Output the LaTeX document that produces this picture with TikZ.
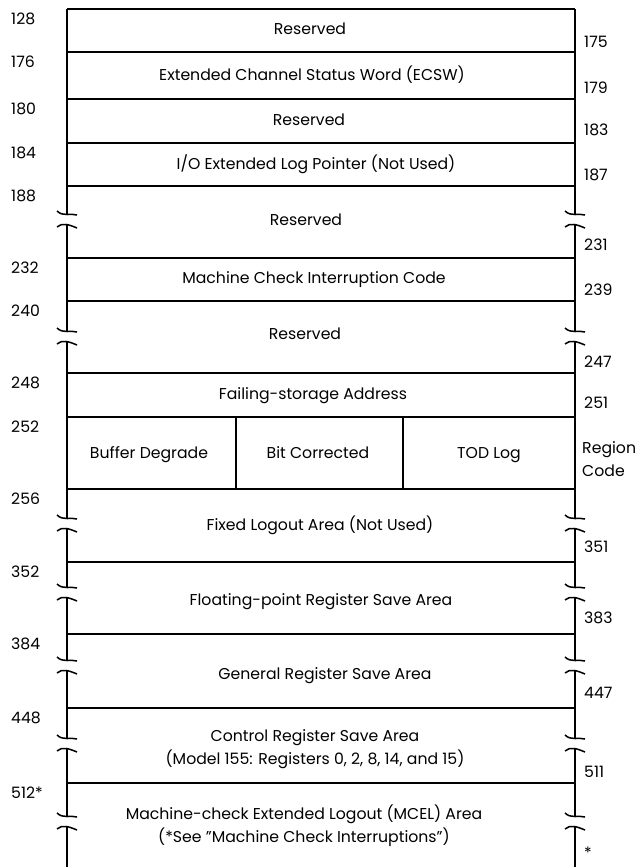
\documentclass[tikz,border=0pt]{standalone}
\usepackage{fontspec}
\setmainfont{Poppins}
\begin{document}
\begin{tikzpicture}[x=0.03cm, y=-0.03cm,
    font=\fontsize{13.4}{19.5}\selectfont,
    rowline/.style={line width=1.1pt},
    sideline/.style={line width=1.5pt},
    field/.style={text height=1.6ex, text depth=0.4ex},
    addr/.style={right, inner sep=0pt}]
  \useasboundingbox (0,0) rectangle (638,867);
    % horizontal rules
    \foreach \y in {9,52,99,143,186,258,301,373,417,489,562,634,708,783} {
        \draw[rowline] (67,\y) -- (575,\y);
    }
    \draw[rowline] (236,417) -- (236,489);
    \draw[rowline] (403,417) -- (403,489);
    % sides
    \draw[sideline] (67,9) -- (67,867);
    \draw[sideline] (575,9) -- (575,867);
    % breaks
    \foreach \x in {67,575} {
        \foreach \c in {220,337,524,593,666,744,822} {
            \fill[white] (\x-3,\c-5) rectangle (\x+3,\c+4);
            \draw[line width=1.3pt] (\x-10,\c-9) .. controls (\x-4,\c-3) and (\x+4,\c-7) .. (\x+10,\c-5);
            \draw[line width=1.3pt] (\x-10,\c+7) .. controls (\x-5,\c+2) and (\x+3,\c+5) .. (\x+10,\c+8);
        }
    }
    % start addresses
    \foreach \y/\t [count=\i] in {9/128,52/176,99/180,143/184,186/188,258/232,301/240,373/248,417/252,489/256,562/352,634/384,708/448,783/512*} {
        \node[addr] (start\i) at (11,\y+10) {\t};
    }
    % end addresses
    \foreach \y/\t [count=\i] in {42/175,88/179,130/183,175/187,245/231,290/239,362/247,403/251,547/351,618/383,693/447,772/511,853/*} {
        \node[addr] (end\i) at (584,\y) {\t};
    }
    \node[addr, align=left] (region) at (582,459) {Region\\Code};
    % fields
    \node[field] (rsv1) at (310,31) {Reserved};
    \node[field] (ecsw) at (312,77) {Extended Channel Status Word (ECSW)};
    \node[field] (rsv2) at (309,122) {Reserved};
    \node[field] (iolog) at (316,166) {I/O Extended Log Pointer (Not Used)};
    \node[field] (rsv3) at (306,222) {Reserved};
    \node[field] (mcic) at (314,280) {Machine Check Interruption Code};
    \node[field] (rsv4) at (305,336) {Reserved};
    \node[field] (fsa) at (313,396) {Failing-storage Address};
    \node[field] (bufdeg) at (149,455) {Buffer Degrade};
    \node[field] (bitcor) at (318,455) {Bit Corrected};
    \node[field] (todlog) at (489,455) {TOD Log};
    \node[field] (fixlog) at (320,527) {Fixed Logout Area (Not Used)};
    \node[field] (fpsave) at (321,602) {Floating-point Register Save Area};
    \node[field] (grsave) at (325,676) {General Register Save Area};
    \node[align=center] (crsave) at (315,749) {Control Register Save Area\\(Model 155: Registers 0, 2, 8, 14, and 15)};
    \node[align=center] (mcel) at (304,826) {Machine-check Extended Logout (MCEL) Area\\(*See \symbol{34}Machine Check Interruptions\symbol{34})};
\end{tikzpicture}
\end{document}
